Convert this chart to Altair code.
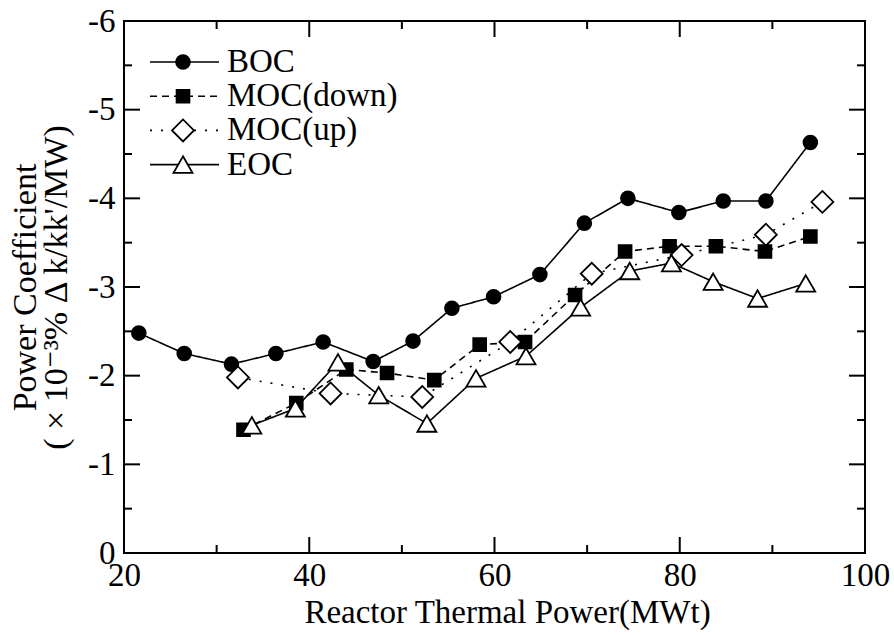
import altair as alt
import pandas as pd

# ---------------- data ----------------
series_names = ["BOC", "MOC(down)", "MOC(up)", "EOC"]

boc_x = [21.6, 26.5, 31.6, 36.4, 41.5, 46.9, 51.2, 55.4, 59.9, 64.9, 69.7, 74.4, 79.9, 84.7, 89.3, 94.1]
boc_y = [-2.48, -2.25, -2.13, -2.25, -2.38, -2.16, -2.39, -2.76, -2.89, -3.14, -3.72, -4.00, -3.84, -3.97, -3.97, -4.63]

mocd_x = [32.9, 38.6, 44.0, 48.4, 53.5, 58.4, 63.3, 68.7, 74.1, 78.9, 83.9, 89.2, 94.1]
mocd_y = [-1.39, -1.69, -2.07, -2.03, -1.95, -2.35, -2.38, -2.91, -3.40, -3.46, -3.46, -3.40, -3.57]

mocu_x = [32.3, 42.3, 52.2, 61.7, 70.5, 80.2, 89.3, 95.4]
mocu_y = [-1.98, -1.80, -1.76, -2.38, -3.15, -3.36, -3.59, -3.96]

eoc_x = [33.8, 38.5, 43.1, 47.5, 52.7, 58.0, 63.4, 69.3, 74.6, 79.1, 83.6, 88.4, 93.6]
eoc_y = [-1.44, -1.63, -2.15, -1.78, -1.46, -1.97, -2.22, -2.77, -3.18, -3.27, -3.06, -2.87, -3.04]

x_major = [20, 40, 60, 80, 100]
x_minor = [30, 50, 70, 90]
y_major = [-6, -5, -4, -3, -2, -1, 0]
y_minor = [-5.5, -4.5, -3.5, -2.5, -1.5, -0.5]

x_title = "Reactor Thermal Power(MWt)"
y_title = ["Power Coefficient", "( × 10⁻³% Δ k/kk'/MW)"]

# ---------------- styles ----------------
FONT = "Liberation Serif, Tinos, Times New Roman, DejaVu Serif, serif"
W, H = 741, 532
MAJ, MIN = 16, 8
styles = {
    "BOC":       dict(shape="circle",      fill="black", size=190, dash=[1, 0]),
    "MOC(down)": dict(shape="square",      fill="black", size=165, dash=[7, 5]),
    "MOC(up)":   dict(shape="diamond",     fill="white", size=480, dash=[2, 9]),
    "EOC":       dict(shape="triangle-up", fill="white", size=360, dash=[1, 0]),
}

frames = []
for name, xs, ys in zip(series_names, [boc_x, mocd_x, mocu_x, eoc_x], [boc_y, mocd_y, mocu_y, eoc_y]):
    frames.append(pd.DataFrame({"series": name, "x": xs, "y": ys}))
df = pd.concat(frames, ignore_index=True)

xscale = alt.Scale(domain=[20, 100], nice=False, zero=False)
yscale = alt.Scale(domain=[-6, 0], nice=False, zero=False, reverse=True)

# one shared axis definition used by every layer, so the merged axis stays enabled
X_AXIS = alt.Axis(
    values=x_major, ticks=False, domain=False, grid=False, labelPadding=6,
    title=x_title, titleX=383, titleY=69, titleAlign="center",
    titleBaseline="alphabetic",
)
Y_AXIS = alt.Axis(
    values=y_major, ticks=False, domain=False, grid=False, labelPadding=9,
    labelExpr="datum.value == 0 ? '0' : '-' + abs(datum.value)",
    title=y_title, titleFontSize=34, titleAngle=270, titleAlign="center",
    titleBaseline="top", titleX=-116, titleY=266, titleLineHeight=31,
)

def X(field):
    return alt.X(field, type="quantitative", scale=xscale, axis=X_AXIS)

def Y(field):
    return alt.Y(field, type="quantitative", scale=yscale, axis=Y_AXIS)

layers = []

# ---------------- data lines ----------------
for name in series_names:
    st = styles[name]
    sub = df[df["series"] == name]
    layers.append(
        alt.Chart(sub).mark_line(color="black", strokeWidth=1.6, strokeDash=st["dash"]).encode(
            x=X("x"), y=Y("y"))
    )

# ---------------- inward tick marks drawn through the scales ----------------
xt = pd.DataFrame({"t": x_major + x_minor, "len": [MAJ] * len(x_major) + [MIN] * len(x_minor)})
yt = pd.DataFrame({"t": y_major + y_minor, "len": [MAJ] * len(y_major) + [MIN] * len(y_minor)})
for length in (MAJ, MIN):
    xs_ = xt[xt["len"] == length]
    ys_ = yt[yt["len"] == length]
    layers.append(alt.Chart(xs_).mark_rule(color="black", strokeWidth=2).encode(
        x=X("t"), y=alt.value(H), y2=alt.value(H - length)))
    layers.append(alt.Chart(xs_).mark_rule(color="black", strokeWidth=2).encode(
        x=X("t"), y=alt.value(0), y2=alt.value(length)))
    layers.append(alt.Chart(ys_).mark_rule(color="black", strokeWidth=2).encode(
        y=Y("t"), x=alt.value(0), x2=alt.value(length)))
    layers.append(alt.Chart(ys_).mark_rule(color="black", strokeWidth=2).encode(
        y=Y("t"), x=alt.value(W), x2=alt.value(W - length)))

# ---------------- data markers ----------------
for name in series_names:
    st = styles[name]
    sub = df[df["series"] == name]
    layers.append(
        alt.Chart(sub).mark_point(
            shape=st["shape"], filled=True, fill=st["fill"], stroke="black",
            strokeWidth=1.8, size=st["size"], opacity=1,
        ).encode(x=X("x"), y=Y("y"))
    )

# ---------------- legend (top-left, inside) ----------------
row0, row_gap = 41, 34.2
for i, name in enumerate(series_names):
    st = styles[name]
    ly = row0 + row_gap * i
    src = alt.Data(values=[{"s": name}])
    layers.append(
        alt.Chart(src).mark_rule(color="black", strokeWidth=1.6, strokeDash=st["dash"]).encode(
            x=alt.value(26), x2=alt.value(95), y=alt.value(ly))
    )
    layers.append(
        alt.Chart(src).mark_point(
            shape=st["shape"], filled=True, fill=st["fill"], stroke="black",
            strokeWidth=1.8, size=st["size"], opacity=1,
        ).encode(x=alt.value(59), y=alt.value(ly))
    )
    layers.append(
        alt.Chart(src).mark_text(align="left", baseline="middle").encode(
            x=alt.value(103), y=alt.value(ly), text="s:N")
    )

chart = alt.layer(*layers).properties(
    width=W, height=H,
    padding={"left": 124, "top": 21, "right": 29, "bottom": 82},
    autosize=alt.AutoSizeParams(type="none"),
    background="white",
).configure_view(
    stroke="black", strokeWidth=2
).configure_axis(
    labelFont=FONT, labelFontSize=33, labelColor="black", labelFlush=False,
    labelOverlap=False, titleFont=FONT, titleFontSize=33, titleFontWeight="normal",
    titleColor="black",
).configure_text(
    font=FONT, fontSize=33, color="black"
)

chart.save("out.html", embed_options={"renderer": "svg", "actions": False})
